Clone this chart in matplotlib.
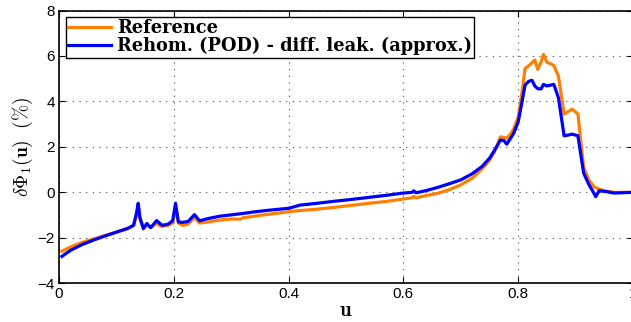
import matplotlib
matplotlib.use("Agg")
import matplotlib.pyplot as plt

plt.rcParams["mathtext.fontset"] = "cm"

# Reference solution
u_ref = [0.005, 0.02, 0.04, 0.06, 0.08, 0.10, 0.12, 0.13, 0.135, 0.138, 0.141,
         0.147, 0.153, 0.16, 0.17, 0.175, 0.18, 0.19, 0.198, 0.203, 0.208, 0.215,
         0.225, 0.236, 0.245, 0.26, 0.28, 0.30, 0.316, 0.32, 0.34, 0.36, 0.38,
         0.40, 0.42, 0.45, 0.48, 0.51, 0.54, 0.57, 0.60, 0.615, 0.618, 0.622,
         0.64, 0.66, 0.68, 0.70, 0.72, 0.737, 0.75, 0.76, 0.769, 0.775, 0.78,
         0.786, 0.792, 0.80, 0.806, 0.812, 0.818, 0.824, 0.829, 0.834, 0.840,
         0.844, 0.850, 0.857, 0.862, 0.870, 0.880, 0.887, 0.894, 0.904, 0.914,
         0.923, 0.932, 0.940, 0.955, 0.97, 0.985, 0.998]
phi_ref = [-2.59, -2.40, -2.20, -2.05, -1.90, -1.75, -1.60, -1.45, -1.00, -0.60,
           -1.20, -1.55, -1.45, -1.55, -1.35, -1.45, -1.50, -1.45, -1.35, -0.70,
           -1.35, -1.45, -1.40, -1.10, -1.35, -1.30, -1.22, -1.17, -1.18, -1.12,
           -1.05, -0.98, -0.92, -0.85, -0.80, -0.74, -0.66, -0.57, -0.48, -0.40,
           -0.29, -0.24, -0.18, -0.24, -0.14, -0.04, 0.12, 0.33, 0.62, 1.03,
           1.40, 1.85, 2.44, 2.42, 2.38, 2.55, 2.78, 3.30, 4.30, 5.45, 5.56,
           5.70, 5.82, 5.41, 5.75, 6.07, 5.72, 5.65, 5.58, 5.12, 3.44, 3.55,
           3.66, 3.45, 1.10, 0.55, 0.25, 0.15, 0.04, 0.0, 0.0, 0.0]

# Rehomogenization (POD) with approximate differential leakage
u_pod = [0.005, 0.02, 0.04, 0.06, 0.08, 0.10, 0.12, 0.13, 0.135, 0.138, 0.141,
         0.147, 0.153, 0.16, 0.17, 0.175, 0.18, 0.19, 0.198, 0.203, 0.208, 0.215,
         0.225, 0.236, 0.245, 0.26, 0.28, 0.30, 0.32, 0.34, 0.36, 0.38, 0.40,
         0.42, 0.45, 0.48, 0.51, 0.54, 0.57, 0.60, 0.615, 0.618, 0.622, 0.64,
         0.66, 0.68, 0.70, 0.72, 0.737, 0.75, 0.76, 0.769, 0.775, 0.78, 0.786,
         0.792, 0.80, 0.806, 0.812, 0.818, 0.824, 0.829, 0.834, 0.840, 0.844,
         0.850, 0.857, 0.862, 0.870, 0.880, 0.887, 0.894, 0.904, 0.914, 0.923,
         0.930, 0.935, 0.941, 0.955, 0.966, 0.98, 0.998]
phi_pod = [-2.82, -2.55, -2.30, -2.10, -1.92, -1.75, -1.58, -1.45, -0.90, -0.48,
           -1.10, -1.60, -1.37, -1.55, -1.24, -1.35, -1.45, -1.40, -1.25, -0.48,
           -1.30, -1.32, -1.28, -0.98, -1.25, -1.15, -1.05, -0.99, -0.93, -0.86,
           -0.80, -0.75, -0.70, -0.56, -0.48, -0.39, -0.31, -0.22, -0.13, -0.03,
           0.00, 0.07, -0.02, 0.08, 0.22, 0.38, 0.55, 0.82, 1.14, 1.50, 1.90,
           2.30, 2.28, 2.12, 2.35, 2.59, 3.10, 3.90, 4.72, 4.88, 4.93, 4.68,
           4.56, 4.55, 4.75, 4.68, 4.72, 4.75, 4.17, 2.49, 2.52, 2.56, 2.49,
           0.85, 0.35, 0.05, -0.19, 0.07, 0.03, -0.03, -0.02, 0.0]

labels = ["Reference", "Rehom. (POD) - diff. leak. (approx.)"]
x_ticks = [0, 0.2, 0.4, 0.6, 0.8, 1.0]
x_ticklabels = ["0", "0.2", "0.4", "0.6", "0.8", "1"]
y_ticks = [-4, -2, 0, 2, 4, 6, 8]

fig = plt.figure(figsize=(6.31, 3.22), dpi=100)
ax = fig.add_axes([59 / 631, 38.7 / 322, 574 / 631, 272.8 / 322])

ax.plot(u_ref, phi_ref, color="#FF8000", lw=2.3, label=labels[0])
ax.plot(u_pod, phi_pod, color="#0000FF", lw=2.3, label=labels[1])

ax.set_xlim(0, 1)
ax.set_ylim(-4, 8)
ax.set_xticks(x_ticks)
ax.set_xticklabels(x_ticklabels)
ax.set_yticks(y_ticks)
ax.tick_params(direction="in", top=True, right=True, length=4, width=0.8,
               labelsize=11, pad=3)
for lab in ax.get_xticklabels() + ax.get_yticklabels():
    lab.set_family("Liberation Sans")
for sp in ax.spines.values():
    sp.set_linewidth(1.2)

ax.grid(True, color="#444444", linestyle=(0, (1, 5)), linewidth=0.8)

ax.set_xlabel(r"$\mathbf{u}$", fontsize=15, labelpad=-1)
ax.set_ylabel(r"$\delta\Phi_1(\mathbf{u})\ \ (\%)$", fontsize=14, labelpad=2)

leg = ax.legend(loc="upper left", bbox_to_anchor=(0.012, 0.976),
                borderaxespad=0, fancybox=False, framealpha=1,
                edgecolor="black", handlelength=2.4, handletextpad=0.35,
                labelspacing=0.0, borderpad=0.12,
                prop={"family": "DejaVu Serif", "weight": "bold", "size": 12.8})
leg.get_frame().set_linewidth(1.0)

fig.savefig("out.png", dpi=100)
